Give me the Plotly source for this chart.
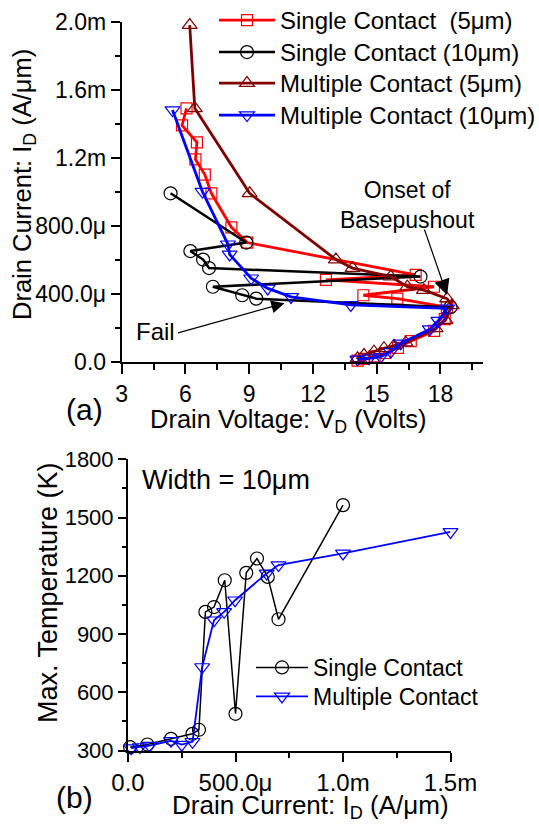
import numpy as np
import plotly.graph_objects as go

W, H = 539, 827
FONT = "Liberation Sans, Arial, Helvetica, sans-serif"

# ---------------- (a) I-V characteristics ----------------
# drain voltage (V) and drain current (mA/um) for each device
sc5_v = [6.05, 5.84, 6.54, 6.47, 6.91, 7.22, 8.16, 8.91, 16.83, 12.61, 17.69, 14.37, 15.97, 18.30,
         18.20, 17.70, 16.60, 16.00, 15.40, 14.90, 14.40, 14.10]
sc5_i = [1.49, 1.39, 1.29, 1.19, 1.10, 0.99, 0.79, 0.70, 0.51, 0.48, 0.44, 0.39, 0.37, 0.32,
         0.25, 0.18, 0.12, 0.08, 0.05, 0.03, 0.015, 0.005]

sc10_v = [5.30, 8.86, 6.23, 6.83, 7.11, 17.06, 7.29, 8.67, 9.33, 18.47]
sc10_i = [0.99, 0.70, 0.65, 0.60, 0.55, 0.50, 0.44, 0.39, 0.37, 0.32]

mc5_v = [6.20, 6.44, 9.02, 13.08, 13.86, 15.66, 16.44, 17.22, 18.31, 18.53,
         18.24, 17.77, 16.36, 15.81, 15.34, 14.87, 14.40, 14.10]
mc5_i = [1.98, 1.49, 0.99, 0.60, 0.55, 0.50, 0.44, 0.42, 0.37, 0.33,
         0.244, 0.195, 0.111, 0.093, 0.078, 0.058, 0.038, 0.019]

mc10_v = [5.39, 6.80, 8.00, 8.08, 9.09, 9.87, 10.97, 13.78, 18.31,
          17.90, 17.50, 16.13, 15.66, 15.19, 14.64, 14.09]
mc10_i = [1.48, 1.00, 0.69, 0.63, 0.49, 0.43, 0.38, 0.333, 0.313,
          0.24, 0.19, 0.107, 0.058, 0.028, 0.019, 0.013]

# ---------------- (b) peak temperature vs drain current ----------------
tb_sc_i = [0.01, 0.09, 0.20, 0.30, 0.33, 0.36, 0.40, 0.45, 0.50, 0.55, 0.60, 0.65, 0.70, 1.00]
tb_sc_t = [317, 331, 360, 386, 407, 1014, 1039, 1177, 489, 1215, 1289, 1194, 976, 1564]

tb_mc_i = [0.015, 0.055, 0.10, 0.20, 0.25, 0.30, 0.345, 0.40, 0.447, 0.498, 0.645, 0.70, 1.00, 1.50]
tb_mc_t = [312, 318, 325, 350, 330, 345, 730, 971, 1014, 1074, 1212, 1255, 1315, 1426]

# tick labels
a_xticks = [3, 6, 9, 12, 15, 18]
a_yticks = [0.0, 0.4, 0.8, 1.2, 1.6, 2.0]
a_ytext = ["0.0", "400.0\u03bc", "800.0\u03bc", "1.2m", "1.6m", "2.0m"]
b_xticks = [0.0, 0.5, 1.0, 1.5]
b_xtext = ["0.0", "500.0\u03bc", "1.0m", "1.5m"]
b_yticks = [300, 600, 900, 1200, 1500, 1800]

mA = 1e-3  # currents are stored in mA/um, plotted in A/um

RED, BLACK, BROWN, BLUE = "#ff0000", "#000000", "#800000", "#0000ff"
NB = "\u00a0"

fig = go.Figure()


def add(xs, ys, name, color, symbol, msize, lw, xa, ya, legend):
    fig.add_trace(go.Scatter(
        x=xs, y=ys, name=name, mode="lines+markers", showlegend=True,
        line=dict(color=color, width=lw),
        marker=dict(symbol=symbol, size=msize, color=color, line=dict(color=color, width=1.2)),
        xaxis=xa, yaxis=ya, legend=legend, cliponaxis=False))


# each series gets its own legend box so the entries can be spaced freely
add(sc5_v, np.array(sc5_i) * mA, "Single Contact " + NB + "(5\u03bcm)", RED, "square-open", 11, 2.8, "x", "y", "legend")
add(sc10_v, np.array(sc10_i) * mA, "Single Contact (10\u03bcm)", BLACK, "circle-open", 13, 2.5, "x", "y", "legend2")
add(mc5_v, np.array(mc5_i) * mA, "Multiple Contact (5\u03bcm)", BROWN, "triangle-up-open", 13, 2.8, "x", "y", "legend3")
add(mc10_v, np.array(mc10_i) * mA, "Multiple Contact (10\u03bcm)", BLUE, "triangle-down-open", 13, 2.8, "x", "y", "legend4")

add(np.array(tb_sc_i) * mA, tb_sc_t, "Single Contact", BLACK, "circle-open", 13, 1.5, "x2", "y2", "legend5")
add(np.array(tb_mc_i) * mA, tb_mc_t, "Multiple Contact", BLUE, "triangle-down-open", 13, 1.8, "x2", "y2", "legend6")


def px(x):
    return x / W


def py(y):
    return 1 - y / H


axis_common = dict(showline=True, linecolor="black", linewidth=2, ticks="outside",
                   tickcolor="black", tickwidth=2, showgrid=False, zeroline=False,
                   tickfont=dict(family=FONT, size=23, color="black"), tickmode="array")


def leg(x, top, size, iw):
    return dict(x=px(x), y=py(top), xanchor="left", yanchor="top",
                bgcolor="rgba(0,0,0,0)", font=dict(family=FONT, size=size, color="black"),
                itemwidth=iw, tracegroupgap=0)


fig.update_layout(
    width=W, height=H, autosize=False, showlegend=True,
    margin=dict(l=0, r=0, t=0, b=0, autoexpand=False),
    paper_bgcolor="white", plot_bgcolor="white",
    font=dict(family=FONT, color="black"),
    xaxis=dict(axis_common, domain=[px(121.7), px(483)], range=[3, 20], anchor="y",
               tickvals=a_xticks, ticktext=[str(t) for t in a_xticks], ticklen=10,
               ticklabelstandoff=1,
               minor=dict(tickvals=[4.5, 7.5, 10.5, 13.5, 16.5, 19.5], ticklen=6,
                          tickcolor="black", tickwidth=2, ticks="outside")),
    yaxis=dict(axis_common, domain=[py(361.5), py(21.7)], range=[0, 2.0e-3], anchor="x",
               tickvals=[v * mA for v in a_yticks], ticktext=a_ytext, ticklen=9,
               minor=dict(tickvals=[v * mA for v in [0.2, 0.6, 1.0, 1.4, 1.8]], ticklen=5,
                          tickcolor="black", tickwidth=2, ticks="outside")),
    xaxis2=dict(axis_common, domain=[px(128), px(450.5)], range=[0, 1.5e-3], anchor="y2",
                tickvals=[v * mA for v in b_xticks], ticktext=b_xtext, ticklen=9,
                ticklabelstandoff=1,
                tickfont=dict(family=FONT, size=24, color="black"),
                minor=dict(tickvals=[v * mA for v in [0.25, 0.75, 1.25]], ticklen=5,
                           tickcolor="black", tickwidth=2, ticks="outside")),
    yaxis2=dict(axis_common, domain=[py(750.5), py(459.3)], range=[300, 1800], anchor="x2",
                tickvals=b_yticks, ticktext=[str(t) for t in b_yticks], ticklen=8,
                tickfont=dict(family=FONT, size=22, color="black"),
                minor=dict(tickvals=[450, 750, 1050, 1350, 1650], ticklen=4,
                           tickcolor="black", tickwidth=2, ticks="outside")),
    legend=leg(214, -2, 24, 56),
    legend2=leg(214, 30, 24, 56),
    legend3=leg(214, 61, 24, 56),
    legend4=leg(214, 93, 24, 56),
    legend5=leg(251, 646, 23, 52),
    legend6=leg(251, 675, 23, 52),
)

ann = []


def text(x, y, s, size=23, angle=0):
    ann.append(dict(x=px(x), y=py(y), xref="paper", yref="paper", text=s, showarrow=False,
                    textangle=angle, font=dict(family=FONT, size=size, color="black"),
                    xanchor="center", yanchor="middle"))


text(288, 421, "Drain Voltage: V<sub>D</sub> (Volts)", size=25.5)
text(24, 185, "Drain Current: I<sub>D</sub> (A/\u03bcm)", size=25.5, angle=-90)
text(84, 409, "(a)", size=30)
text(407, 205, "Onset of<br>Basepushout")
text(155, 331, "Fail", size=24)

text(310, 806, "Drain Current: I<sub>D</sub> (A/\u03bcm)", size=26)
text(48, 593, "Max. Temperature (K)", size=27, angle=-90)
text(74, 797, "(b)", size=30)
text(226, 480, "Width = 10\u03bcm", size=27)

# arrows in data coordinates of panel (a)
ann.append(dict(x=10.66, y=0.343 * mA, ax=5.58, ay=0.166 * mA, xref="x", yref="y",
                axref="x", ayref="y", text="", showarrow=True, arrowhead=2,
                arrowsize=2.2, arrowwidth=1.2, arrowcolor="black"))
ann.append(dict(x=18.31, y=0.391 * mA, ax=17.22, ay=0.786 * mA, xref="x", yref="y",
                axref="x", ayref="y", text="", showarrow=True, arrowhead=2,
                arrowsize=2.6, arrowwidth=1.2, arrowcolor="black"))

fig.update_layout(annotations=ann)

fig.write_html("out.html")
